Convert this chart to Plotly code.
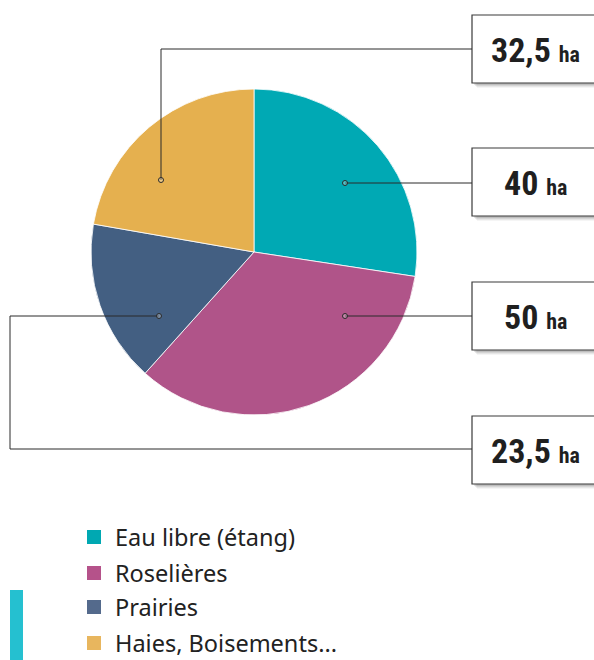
import plotly.graph_objects as go

categories = ["Eau libre (étang)", "Roselières", "Prairies", "Haies, Boisements..."]
values = [40, 50, 23.5, 32.5]
value_labels = ["40", "50", "23,5", "32,5"]
colors = ["#00A9B4", "#B05489", "#435F82", "#E5B04F"]
legend_colors = ["#00A8B2", "#B5528A", "#546A8C", "#E8B65E"]

W, H = 594, 660


def px(x):
    return x / W


def py(y):
    return 1 - y / H


fig = go.Figure()
fig.add_trace(go.Pie(
    labels=categories, values=values, sort=False, direction="clockwise",
    rotation=0, textinfo="none", hoverinfo="label+value",
    marker=dict(colors=colors, line=dict(color="rgba(255,255,255,0.8)", width=1)),
    domain=dict(x=[px(91), px(417)], y=[py(415), py(89)]),
    showlegend=False,
))

shapes = []
annotations = []

# value boxes: (label index, box top, box bottom)
boxes = [(3, 15, 83), (0, 148, 216), (1, 282, 350), (2, 416, 484)]
# leader paths (pixel coords) from dot to box
paths = {
    3: [(161, 180), (161, 49), (472, 49)],
    0: [(345, 183), (472, 183)],
    1: [(345, 316), (472, 316)],
    2: [(159, 316), (10, 316), (10, 449), (472, 449)],
}

for idx, top, bot in boxes:
    # shadow
    for k, a in enumerate([0.10, 0.08, 0.06, 0.04]):
        shapes.append(dict(type="rect", xref="paper", yref="paper",
                           x0=px(472 + 2 + k), x1=px(600), y0=py(bot + 2 + k), y1=py(top + 4 + k),
                           fillcolor=f"rgba(0,0,0,{a})", line=dict(width=0), layer="above"))
    shapes.append(dict(type="rect", xref="paper", yref="paper",
                       x0=px(472), x1=px(600), y0=py(bot), y1=py(top),
                       fillcolor="white", line=dict(color="#3a3a3a", width=1.2), layer="above"))
    annotations.append(dict(
        xref="paper", yref="paper", x=px(535), y=py((top + bot) / 2 + 1),
        xanchor="center", yanchor="middle", showarrow=False,
        text=f"<b>{value_labels[idx]}</b> <b><span style='font-size:22px'>ha</span></b>",
        font=dict(family="Liberation Sans Narrow, Roboto Condensed, DejaVu Sans Condensed, sans-serif",
                  size=34, color="#1f1f1f"),
    ))

for idx, pts in paths.items():
    d = "M " + " L ".join(f"{px(x)},{py(y)}" for x, y in pts)
    shapes.append(dict(type="path", xref="paper", yref="paper", path=d,
                       line=dict(color="#2a2a2a", width=1), layer="above"))
    x0, y0 = pts[0]
    shapes.append(dict(type="circle", xref="paper", yref="paper",
                       x0=px(x0 - 2.5), x1=px(x0 + 2.5), y0=py(y0 + 2.5), y1=py(y0 - 2.5),
                       fillcolor="rgba(255,255,255,0.3)", line=dict(color="#2a2a2a", width=1), layer="above"))

# manual legend
legend_y = [537, 573, 607, 643]
for name, c, yy in zip(categories, legend_colors, legend_y):
    shapes.append(dict(type="rect", xref="paper", yref="paper",
                       x0=px(87), x1=px(101), y0=py(yy + 7), y1=py(yy - 7),
                       fillcolor=c, line=dict(width=0)))
    annotations.append(dict(xref="paper", yref="paper", x=px(113), y=py(yy),
                            xanchor="left", yanchor="middle", showarrow=False, text=name,
                            font=dict(family="Noto Sans, Open Sans, sans-serif", size=23.5, color="#222222")))

# left accent bar
shapes.append(dict(type="rect", xref="paper", yref="paper",
                   x0=px(10), x1=px(23), y0=py(660), y1=py(590),
                   fillcolor="#25C0D0", line=dict(width=0)))

fig.update_layout(
    width=W, height=H, margin=dict(l=0, r=0, t=0, b=0),
    paper_bgcolor="white", plot_bgcolor="white",
    shapes=shapes, annotations=annotations,
)

fig.write_html("out.html", config={"displayModeBar": False},
               post_script="document.body.style.margin='0';document.body.style.overflow='hidden';")
